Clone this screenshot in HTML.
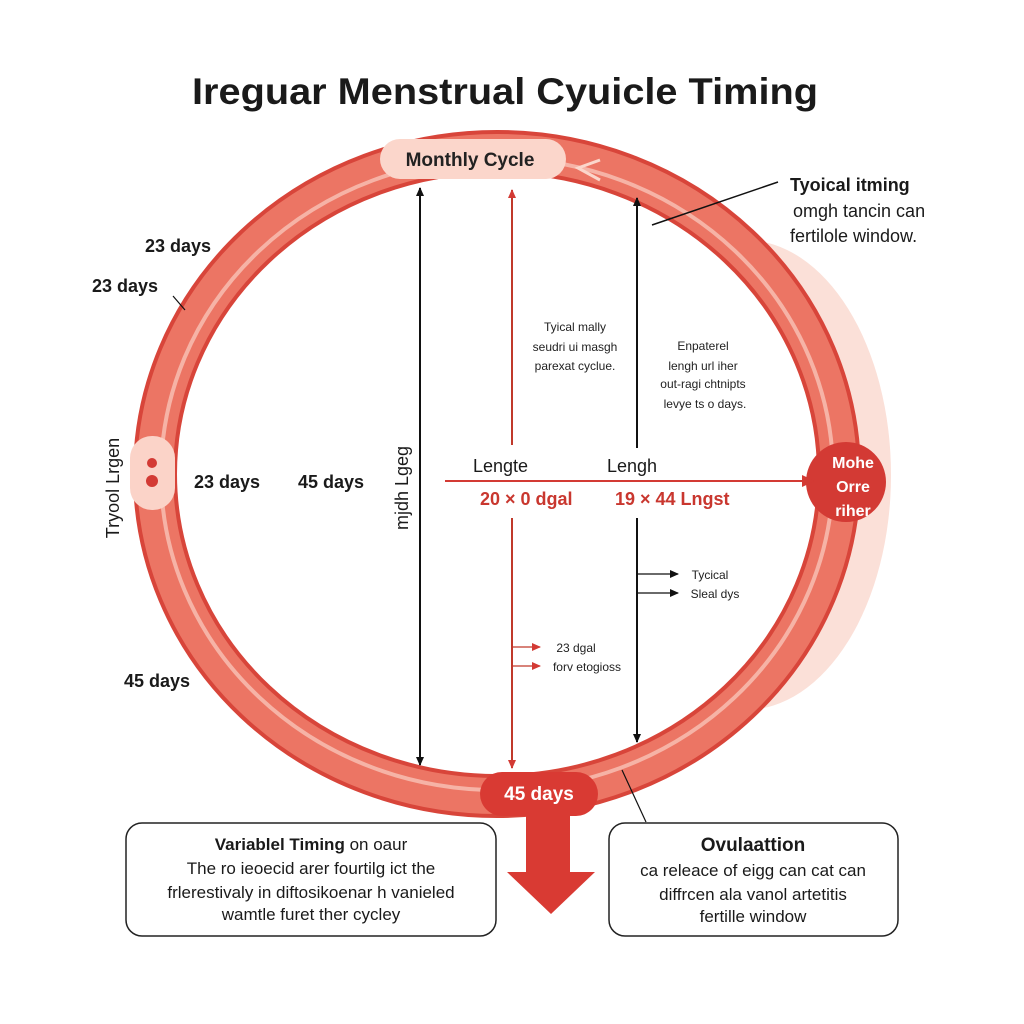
<!DOCTYPE html>
<html><head><style>
body{margin:0;background:#fff;}
svg{display:block;font-family:"Liberation Sans",sans-serif;}
</style></head><body>
<svg width="1024" height="1024" viewBox="0 0 1024 1024">
<defs>
<marker id="ab" markerWidth="10" markerHeight="10" refX="8" refY="5" orient="auto-start-reverse" markerUnits="userSpaceOnUse"><path d="M0,1 L9,5 L0,9 Z" fill="#111"/></marker>
<marker id="ar" markerWidth="10" markerHeight="10" refX="8" refY="5" orient="auto-start-reverse" markerUnits="userSpaceOnUse"><path d="M0,1 L9,5 L0,9 Z" fill="#d33a34"/></marker>
<marker id="ars" markerWidth="14" markerHeight="14" refX="12" refY="7" orient="auto" markerUnits="userSpaceOnUse"><path d="M0,1 L13,7 L0,13 Z" fill="#d33a34"/></marker>
</defs>
<rect width="1024" height="1024" fill="#fff"/>
<text x="505" y="104" text-anchor="middle" font-size="37" font-weight="bold" fill="#1a1a1a" textLength="626" lengthAdjust="spacingAndGlyphs">Ireguar Menstrual Cyuicle Timing</text>
<!-- pink crescent -->
<ellipse cx="745" cy="475" rx="146" ry="235" fill="#fbe0d8"/>
<ellipse cx="497" cy="474" rx="322" ry="300" fill="#fff"/>
<!-- ring -->
<ellipse cx="497" cy="474" rx="342" ry="322" fill="none" stroke="#d8453a" stroke-width="44"/>
<ellipse cx="497" cy="474" rx="342" ry="322" fill="none" stroke="#ec7564" stroke-width="36"/>
<ellipse cx="497" cy="474" rx="336" ry="316" fill="none" stroke="#f6b3a6" stroke-width="4"/>
<!-- monthly cycle pill -->
<rect x="380" y="139" width="186" height="40" rx="20" fill="#fbd6cb"/>
<text x="470" y="166" text-anchor="middle" font-size="19" font-weight="bold" fill="#222">Monthly Cycle</text>
<path d="M600,160 L578,168 L600,180" fill="none" stroke="#fbd6cb" stroke-width="3"/>
<!-- 45 days pill -->
<rect x="480" y="772" width="118" height="44" rx="22" fill="#d93a33"/>
<rect x="526" y="814" width="44" height="60" fill="#d93a33"/>
<path d="M507,872 L595,872 L551,914 Z" fill="#d93a33"/>
<text x="539" y="800" text-anchor="middle" font-size="19" font-weight="bold" fill="#fff">45 days</text>
<!-- right red circle -->
<circle cx="846" cy="482" r="40" fill="#d33a34"/>
<text x="853" y="468" text-anchor="middle" font-size="16" font-weight="bold" fill="#fff">Mohe</text>
<text x="853" y="492" text-anchor="middle" font-size="16" font-weight="bold" fill="#fff">Orre</text>
<text x="853" y="516" text-anchor="middle" font-size="16" font-weight="bold" fill="#fff">riher</text>
<!-- left pill -->
<rect x="130" y="436" width="45" height="74" rx="22" fill="#fbd3c8"/>
<circle cx="152" cy="463" r="5" fill="#d33a34"/>
<circle cx="152" cy="481" r="6" fill="#d33a34"/>
<!-- vertical lines -->
<line x1="420" y1="188" x2="420" y2="765" stroke="#111" stroke-width="2" marker-start="url(#ab)" marker-end="url(#ab)"/>
<line x1="512" y1="190" x2="512" y2="445" stroke="#c0392b" stroke-width="2" marker-start="url(#ar)"/>
<line x1="512" y1="518" x2="512" y2="768" stroke="#c0392b" stroke-width="2" marker-end="url(#ar)"/>
<line x1="637" y1="198" x2="637" y2="448" stroke="#111" stroke-width="2" marker-start="url(#ab)"/>
<line x1="637" y1="518" x2="637" y2="742" stroke="#111" stroke-width="2" marker-end="url(#ab)"/>
<line x1="445" y1="481" x2="814" y2="481" stroke="#d33a34" stroke-width="2" marker-end="url(#ars)"/>
<line x1="637" y1="574" x2="678" y2="574" stroke="#111" stroke-width="1.3" marker-end="url(#ab)"/>
<line x1="637" y1="593" x2="678" y2="593" stroke="#111" stroke-width="1.3" marker-end="url(#ab)"/>
<line x1="512" y1="647" x2="540" y2="647" stroke="#c0392b" stroke-width="1.3" marker-end="url(#ar)"/>
<line x1="512" y1="666" x2="540" y2="666" stroke="#c0392b" stroke-width="1.3" marker-end="url(#ar)"/>
<!-- callout line -->
<line x1="778" y1="182" x2="652" y2="225" stroke="#111" stroke-width="1.5"/>
<line x1="622" y1="770" x2="646" y2="822" stroke="#111" stroke-width="1.2"/>
<line x1="173" y1="296" x2="185" y2="310" stroke="#111" stroke-width="1.2"/>
<!-- texts -->
<g font-size="18" fill="#1a1a1a">
<text x="790" y="191" font-weight="bold">Tyoical itming</text>
<text x="793" y="217">omgh tancin can</text>
<text x="790" y="242">fertilole window.</text>
<text x="145" y="252" font-weight="bold">23 days</text>
<text x="92" y="292" font-weight="bold">23 days</text>
<text x="194" y="488" font-weight="bold">23 days</text>
<text x="298" y="488" font-weight="bold">45 days</text>
<text x="124" y="687" font-weight="bold">45 days</text>
<text x="473" y="472">Lengte</text>
<text x="607" y="472">Lengh</text>
</g>
<text transform="translate(119,488) rotate(-90)" text-anchor="middle" font-size="18" fill="#1a1a1a">Tryool Lrgen</text>
<text transform="translate(408,488) rotate(-90)" text-anchor="middle" font-size="18" fill="#1a1a1a">mjdh Lgeg</text>
<g font-size="18" font-weight="bold" fill="#c9372f">
<text x="480" y="505">20 × 0 dgal</text>
<text x="615" y="505">19 × 44 Lngst</text>
</g>
<g font-size="12" fill="#222" text-anchor="middle">
<text x="575" y="331">Tyical mally</text>
<text x="575" y="351">seudri ui masgh</text>
<text x="575" y="370">parexat cyclue.</text>
<text x="703" y="350">Enpaterel</text>
<text x="703" y="370">lengh url iher</text>
<text x="703" y="388">out-ragi chtnipts</text>
<text x="705" y="408">levye ts o days.</text>
<text x="710" y="579">Tycical</text>
<text x="715" y="598">Sleal dys</text>
<text x="576" y="652">23 dgal</text>
<text x="587" y="671">forv etogioss</text>
</g>
<!-- boxes -->
<rect x="126" y="823" width="370" height="113" rx="16" fill="#fff" stroke="#222" stroke-width="1.5"/>
<rect x="609" y="823" width="289" height="113" rx="16" fill="#fff" stroke="#222" stroke-width="1.5"/>
<g font-size="17" fill="#1a1a1a" text-anchor="middle">
<text x="311" y="850"><tspan font-weight="bold">Variablel Timing</tspan> on oaur</text>
<text x="311" y="874">The ro ieoecid arer fourtilg ict the</text>
<text x="311" y="898">frlerestivaly in diftosikoenar h vanieled</text>
<text x="311" y="920">wamtle furet ther cycley</text>
<text x="753" y="851" font-weight="bold" font-size="19">Ovulaattion</text>
<text x="753" y="876">ca releace of eigg can cat can</text>
<text x="753" y="900">diffrcen ala vanol artetitis</text>
<text x="753" y="922">fertille window</text>
</g>
</svg>
</body></html>
